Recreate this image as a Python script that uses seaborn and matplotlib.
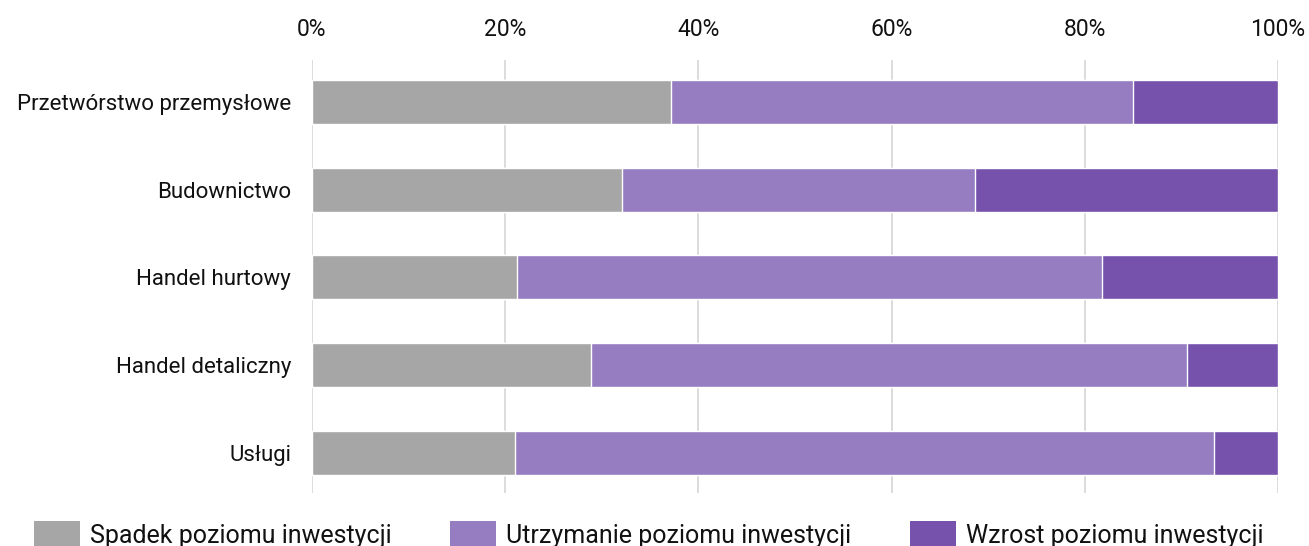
import matplotlib
matplotlib.use("Agg")
import matplotlib.pyplot as plt
import seaborn as sns
import numpy as np
import pandas as pd
from matplotlib.patches import Patch
from matplotlib.ticker import PercentFormatter

categories = ["Przetwórstwo przemysłowe", "Budownictwo", "Handel hurtowy",
              "Handel detaliczny", "Usługi"]
spadek = [37.2, 32.1, 21.2, 28.9, 21.0]
utrzymanie = [47.8, 36.5, 60.6, 61.7, 72.4]
wzrost = [15.0, 31.4, 18.2, 9.4, 6.6]
series_names = ["Spadek poziomu inwestycji", "Utrzymanie poziomu inwestycji",
                "Wzrost poziomu inwestycji"]
colors = ["#a6a6a6", "#967cc0", "#7652ad"]
ticks = [0, 20, 40, 60, 80, 100]

sns.set_theme(style="white")
plt.rcParams['font.family'] = ['Roboto', 'DejaVu Sans']

df = pd.DataFrame({"cat": categories, "s": spadek, "u": utrzymanie, "w": wzrost})
df["c1"] = df["s"]
df["c2"] = df["s"] + df["u"]
df["c3"] = df["s"] + df["u"] + df["w"]

fig = plt.figure(figsize=(13.09, 5.46), dpi=100)
ax = fig.add_axes([0.2383, 0.0971, 0.9763 - 0.2383, 0.890 - 0.0971])

for col, c in zip(["c3", "c2", "c1"], colors[::-1]):
    sns.barplot(data=df, y="cat", x=col, orient="h", color=c, width=0.5,
                saturation=1, ax=ax, zorder=3)

ax.set_xlim(0, 100)
ax.set_ylim(4.46, -0.48)
ax.set_xticks(ticks)
ax.xaxis.set_major_formatter(PercentFormatter(decimals=0))
ax.xaxis.tick_top()
ax.tick_params(axis="x", length=0, pad=14, labelsize=16.5, colors="#111111")
ax.tick_params(axis="y", length=0, pad=15, labelsize=16, colors="#111111")
ax.set_xlabel("")
ax.set_ylabel("")
ax.grid(axis="x", color="#d9d9d9", linewidth=1.3, zorder=0)
for s in ax.spines.values():
    s.set_visible(False)

handles = [Patch(facecolor=c, edgecolor="none") for c in colors]
fig.legend(handles, series_names, loc="lower left", bbox_to_anchor=(0.026, -0.003),
           ncol=3, frameon=False, fontsize=18, handlelength=1.84, handleheight=1.2,
           columnspacing=2.35, handletextpad=0.4, borderpad=0, borderaxespad=0,
           labelcolor="#111111")

fig.savefig("out.png", dpi=100)
